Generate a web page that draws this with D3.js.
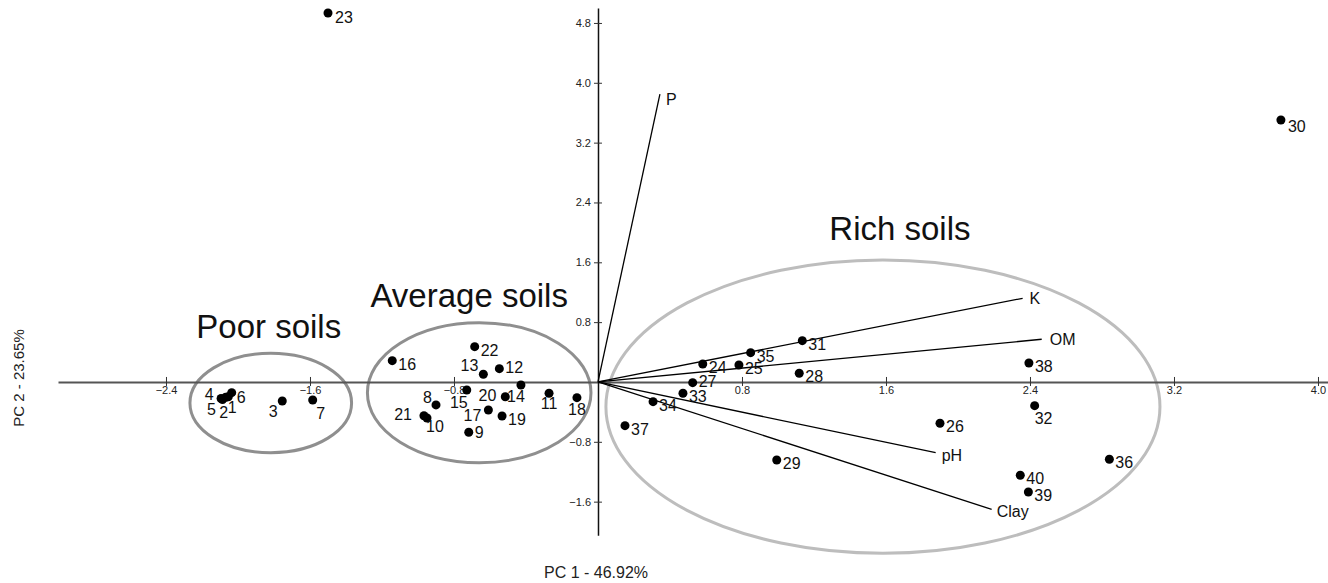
<!DOCTYPE html>
<html>
<head>
<meta charset="utf-8">
<script src="https://cdn.jsdelivr.net/npm/d3@7"></script>
<style>
  html, body { margin: 0; padding: 0; background: #fff; }
  svg { display: block; font-family: "Liberation Sans", Arial, Helvetica, sans-serif; }
</style>
</head>
<body>
<svg id="chart" width="1328" height="583"></svg>
<script>
// PCA biplot of soil samples: sample scores on PC1/PC2 and variable loadings.

// Sample scores
const sampleIds = [1,2,3,4,5,6,7,8,9,10,11,12,13,14,15,16,17,18,19,20,
                   21,22,23,24,25,26,27,28,29,30,31,32,33,34,35,36,37,38,39,40];
const pc1Scores = [-2.054,-2.068,-1.754,-2.094,-2.086,-2.035,-1.585,-0.900,-0.718,-0.950,
                   -0.272,-0.548,-0.637,-0.428,-0.729,-1.143,-0.609,-0.117,-0.533,-0.515,
                   -0.967,-0.685,-1.500, 0.582, 0.783, 1.900, 0.526, 1.118, 0.993, 3.794,
                    1.135, 2.426, 0.472, 0.306, 0.848, 2.841, 0.150, 2.394, 2.391, 2.346];
const pc2Scores = [-0.197,-0.205,-0.254,-0.221,-0.234,-0.143,-0.241,-0.307,-0.672,-0.481,
                   -0.151, 0.178, 0.103,-0.040,-0.107, 0.285,-0.374,-0.210,-0.455,-0.197,
                   -0.451, 0.472, 4.933, 0.241, 0.227,-0.552,-0.009, 0.116,-1.043, 3.503,
                    0.552,-0.317,-0.151,-0.263, 0.392,-1.033,-0.584, 0.254,-1.471,-1.247];

// Variable loadings
const variableNames = ["P", "K", "OM", "pH", "Clay"];
const loadingPC1 = [0.344, 2.359, 2.465, 1.876, 2.187];
const loadingPC2 = [3.850, 1.119, 0.571, -0.945, -1.702];

// Soil groups (ellipse centre and semi-axes in score units)
const groupNames = ["Poor soils", "Average soils", "Rich soils"];
const groupCx = [-1.818, -0.660, 1.583];
const groupCy = [-0.281, -0.143, -0.330];
const groupRx = [0.449, 0.621, 1.539];
const groupRy = [0.664, 0.936, 1.961];

// Axis ticks and titles
const xTickValues = [-2.4, -1.6, -0.8, 0.8, 1.6, 2.4, 3.2, 4.0];
const yTickValues = [-1.6, -0.8, 0.8, 1.6, 2.4, 3.2, 4.0, 4.8];
const xTitle = "PC 1 - 46.92%";
const yTitle = "PC 2 - 23.65%";

// ---- layout -------------------------------------------------------------
const svg = d3.select("#chart");
const x = d3.scaleLinear().domain([-3, 4.0556]).range([58, 1328]);
const y = d3.scaleLinear().domain([-2.05, 5.0]).range([535.3, 8]);

// label placement per sample: [anchor, dx, dy]
const defaultPlace = ["start", 6, 9];
const labelPlace = {
  1: ["middle", 4, 16], 2: ["middle", -2, 21], 3: ["middle", -9, 16],
  4: ["middle", -12, 1], 5: ["middle", -11, 16], 6: ["start", 5, 10],
  7: ["middle", 8, 19], 8: ["end", -4, -2], 9: ["start", 6, 6],
  10: ["middle", 8, 14], 11: ["middle", 0, 16], 12: ["start", 6, 4],
  13: ["end", -5, -3], 14: ["middle", -5, 17], 15: ["middle", -8, 18],
  17: ["end", -7, 11], 18: ["middle", 0, 17], 20: ["end", -9, 4],
  21: ["end", -12, 4], 27: ["start", 6, 4], 32: ["start", 0, 18],
  30: ["start", 7, 12], 23: ["start", 7, 10]
};
const varLabelPlace = [[6, 11], [7, 6], [8, 6], [6, 8], [5, 8]];
const titleOffset = [[-2, -15], [-10, -16], [17, -20]];
const ellipseStroke = ["#8f8f8f", "#8f8f8f", "#bdbdbd"];

const samples = sampleIds.map((id, i) => ({ id, pc1: pc1Scores[i], pc2: pc2Scores[i] }));
const loadings = variableNames.map((name, i) => ({ name, pc1: loadingPC1[i], pc2: loadingPC2[i] }));
const groups = groupNames.map((name, i) => ({
  name, cx: groupCx[i], cy: groupCy[i], rx: groupRx[i], ry: groupRy[i]
}));

// ---- group ellipses --------------------------------------------------------
const gGroups = svg.append("g");
gGroups.selectAll("ellipse").data(groups).join("ellipse")
  .attr("cx", d => x(d.cx))
  .attr("cy", d => y(d.cy))
  .attr("rx", d => x(d.cx + d.rx) - x(d.cx))
  .attr("ry", d => y(d.cy) - y(d.cy + d.ry))
  .attr("fill", "none")
  .attr("stroke", (d, i) => ellipseStroke[i])
  .attr("stroke-width", 3);

gGroups.selectAll("text").data(groups).join("text")
  .attr("x", (d, i) => x(d.cx) + titleOffset[i][0])
  .attr("y", (d, i) => y(d.cy + d.ry) + titleOffset[i][1])
  .attr("text-anchor", "middle")
  .attr("font-size", 33)
  .attr("fill", "#111")
  .text(d => d.name);

// ---- axes through the origin ---------------------------------------------------
const xAxis = d3.axisBottom(x)
  .tickValues(xTickValues)
  .tickFormat(d3.format(".1f"))
  .tickSizeInner(4).tickSizeOuter(0).tickPadding(0);
const gx = svg.append("g").attr("transform", `translate(0,${y(0)})`).call(xAxis);
gx.select(".domain").attr("stroke", "#555").attr("stroke-width", 2);
gx.selectAll(".tick line").attr("y1", -5).attr("y2", 4).attr("stroke", "#333");
gx.selectAll(".tick text").attr("font-size", 11).attr("fill", "#222")
  .attr("font-family", "Liberation Sans, Arial, sans-serif");

const yAxis = d3.axisLeft(y)
  .tickValues(yTickValues)
  .tickFormat(d3.format(".1f"))
  .tickSizeInner(4).tickSizeOuter(0).tickPadding(3);
const gy = svg.append("g").attr("transform", `translate(${x(0)},0)`).call(yAxis);
gy.select(".domain").attr("stroke", "#111").attr("stroke-width", 1.5);
gy.selectAll(".tick line").attr("x1", -4).attr("x2", 4).attr("stroke", "#333");
gy.selectAll(".tick text").attr("font-size", 11).attr("fill", "#222")
  .attr("font-family", "Liberation Sans, Arial, sans-serif");

// axis titles
svg.append("text")
  .attr("x", 596).attr("y", 578)
  .attr("text-anchor", "middle").attr("font-size", 16).attr("fill", "#222")
  .text(xTitle);
svg.append("text")
  .attr("transform", `translate(24,${y(0) - 4}) rotate(-90)`)
  .attr("text-anchor", "middle").attr("font-size", 15).attr("fill", "#222")
  .text(yTitle);

// ---- loading vectors ---------------------------------------------------------
const gLoad = svg.append("g");
gLoad.selectAll("line").data(loadings).join("line")
  .attr("x1", x(0)).attr("y1", y(0))
  .attr("x2", d => x(d.pc1)).attr("y2", d => y(d.pc2))
  .attr("stroke", "#000").attr("stroke-width", 1.3);
gLoad.selectAll("text").data(loadings).join("text")
  .attr("x", (d, i) => x(d.pc1) + varLabelPlace[i][0])
  .attr("y", (d, i) => y(d.pc2) + varLabelPlace[i][1])
  .attr("font-size", 16).attr("fill", "#111")
  .text(d => d.name);

// ---- sample points -------------------------------------------------------------
const gPts = svg.append("g");
gPts.selectAll("circle").data(samples).join("circle")
  .attr("cx", d => x(d.pc1)).attr("cy", d => y(d.pc2))
  .attr("r", 4.5).attr("fill", "#000");
gPts.selectAll("text").data(samples).join("text")
  .each(function (d) {
    const p = labelPlace[d.id] || defaultPlace;
    d3.select(this)
      .attr("x", x(d.pc1) + p[1])
      .attr("y", y(d.pc2) + p[2])
      .attr("text-anchor", p[0]);
  })
  .attr("font-size", 16).attr("fill", "#111")
  .text(d => d.id);
</script>
</body>
</html>
